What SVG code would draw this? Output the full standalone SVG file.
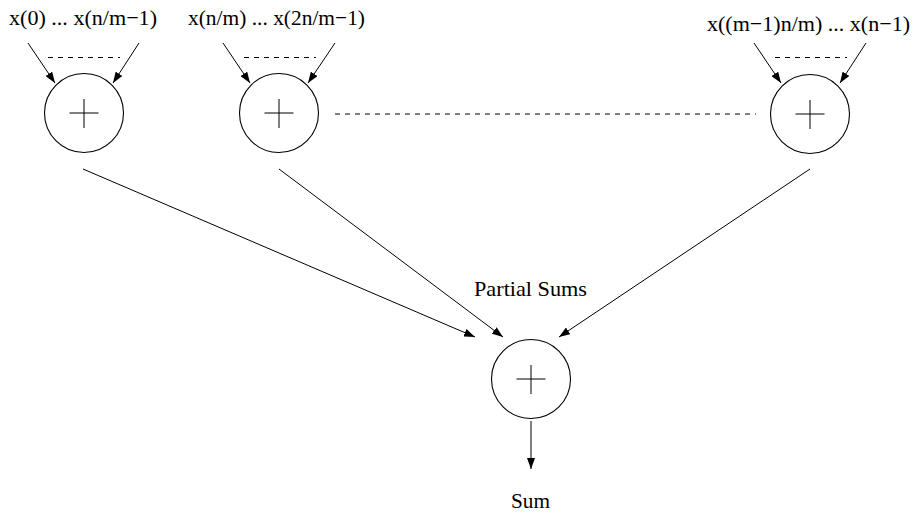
<svg xmlns="http://www.w3.org/2000/svg" width="915" height="514" viewBox="0 0 915 514">
<style>
.c{fill:none;stroke:#000;stroke-width:1.1}
.p{stroke:#000;stroke-width:1}
.a{stroke:#000;stroke-width:1;fill:none;marker-end:url(#ah)}
.d{stroke:#000;stroke-width:1;stroke-dasharray:5 5;fill:none}
.t{font-family:"Liberation Serif","Times New Roman",serif;font-size:21.5px;fill:#000}
</style>
<defs>
<marker id="ah" markerUnits="userSpaceOnUse" markerWidth="12" markerHeight="8" refX="11" refY="4" orient="auto">
<path d="M0,0 L11,4 L0,8 z" fill="#000"/>
</marker>
</defs>
<rect width="915" height="514" fill="#fff"/>
<g id="labels">
<text class="t" x="9" y="25" textLength="148" lengthAdjust="spacingAndGlyphs">x(0) ... x(n/m−1)</text>
<text class="t" x="188" y="25" textLength="177" lengthAdjust="spacingAndGlyphs">x(n/m) ... x(2n/m−1)</text>
<text class="t" x="707" y="31" textLength="203" lengthAdjust="spacingAndGlyphs">x((m−1)n/m) ... x(n−1)</text>
<text class="t" x="474" y="296" textLength="113" lengthAdjust="spacingAndGlyphs">Partial Sums</text>
<text class="t" x="511" y="508" textLength="39" lengthAdjust="spacingAndGlyphs">Sum</text>
</g>
<g id="node1">
<circle class="c" cx="84" cy="113" r="39.5"/>
<path class="p" d="M69.5,113 H98.5 M84,99 V128"/>
</g>
<g id="node2">
<circle class="c" cx="279" cy="113" r="39.5"/>
<path class="p" d="M264.5,113 H293.5 M279,99 V128"/>
</g>
<g id="node3">
<circle class="c" cx="810" cy="114" r="39.5"/>
<path class="p" d="M795.5,114 H824.5 M810,100 V129"/>
</g>
<g id="sumnode">
<circle class="c" cx="531" cy="379" r="39.5"/>
<path class="p" d="M516.5,379 H545.5 M531,365 V394"/>
</g>
<g id="connectors">
<line class="a" x1="28" y1="43" x2="55" y2="83"/>
<line class="a" x1="139" y1="43" x2="113" y2="83"/>
<line class="d" x1="48" y1="57.5" x2="120" y2="57.5"/>
<line class="a" x1="223" y1="43" x2="250" y2="83"/>
<line class="a" x1="335" y1="43" x2="308" y2="83"/>
<line class="d" x1="244" y1="57.5" x2="316" y2="57.5"/>
<line class="a" x1="754" y1="43" x2="781" y2="83"/>
<line class="a" x1="866" y1="43" x2="840" y2="83"/>
<line class="d" x1="775" y1="57.5" x2="847" y2="57.5"/>
<line class="d" x1="335" y1="114" x2="756" y2="114" stroke-dasharray="5.5 5.5"/>
<line class="a" x1="83" y1="169" x2="475" y2="337"/>
<line class="a" x1="279" y1="169" x2="503" y2="337"/>
<line class="a" x1="810" y1="169" x2="559" y2="337"/>
<line class="a" x1="531" y1="421" x2="531" y2="469"/>
</g>
</svg>
